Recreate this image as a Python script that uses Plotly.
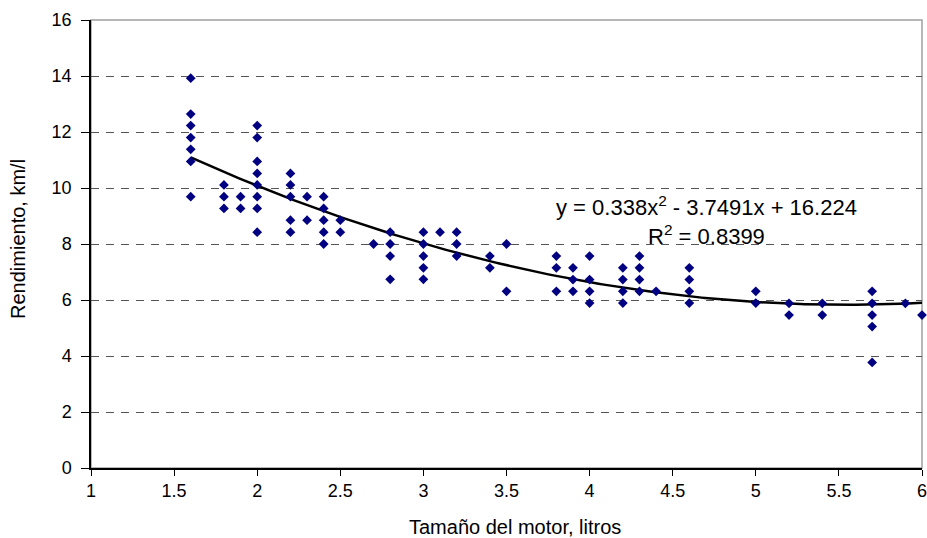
import plotly.graph_objects as go
import numpy as np

# Engine size (litres) and efficiency (km/l)
engine_l = [1.6]*7 + [1.8]*3 + [1.9]*2 + [2.0]*8 + [2.2]*5 + [2.3]*2 + [2.4]*5 + [2.5]*2 + \
           [2.7] + [2.8]*4 + [3.0]*5 + [3.1] + [3.2]*3 + [3.4]*2 + [3.5]*2 + [3.8]*3 + \
           [3.9]*3 + [4.0]*4 + [4.2]*4 + [4.3]*4 + [4.4] + [4.6]*4 + [5.0]*2 + [5.2]*2 + \
           [5.4]*2 + [5.7]*5 + [5.9] + [6.0]
km_per_l = [13.92, 12.64, 12.23, 11.80, 11.38, 10.95, 9.69,
            10.11, 9.69, 9.27,
            9.69, 9.27,
            12.23, 11.80, 10.95, 10.52, 10.11, 9.69, 9.27, 8.42,
            10.52, 10.11, 9.69, 8.85, 8.42,
            9.69, 8.85,
            9.69, 9.27, 8.85, 8.42, 8.00,
            8.85, 8.42,
            8.00,
            8.42, 8.00, 7.57, 6.74,
            8.42, 8.00, 7.57, 7.15, 6.74,
            8.42,
            8.42, 8.00, 7.57,
            7.57, 7.15,
            8.00, 6.31,
            7.57, 7.15, 6.31,
            7.15, 6.73, 6.31,
            7.57, 6.73, 6.31, 5.89,
            7.15, 6.73, 6.31, 5.89,
            7.57, 7.15, 6.73, 6.31,
            6.31,
            7.15, 6.73, 6.31, 5.89,
            6.31, 5.89,
            5.88, 5.46,
            5.88, 5.46,
            6.31, 5.88, 5.46, 5.05, 3.77,
            5.88,
            5.46]

# Trendline coefficients as printed on the chart
coef = [0.338, -3.7491, 16.224]
r2 = 0.8399

x_ticks = [1, 1.5, 2, 2.5, 3, 3.5, 4, 4.5, 5, 5.5, 6]
y_ticks = [0, 2, 4, 6, 8, 10, 12, 14, 16]

xf = np.linspace(min(engine_l), max(engine_l), 200)
yf = np.polyval(coef, xf)

fig = go.Figure()
fig.add_trace(go.Scatter(x=xf, y=yf, mode="lines", cliponaxis=False,
                         line=dict(color="black", width=2.5), hoverinfo="skip"))
fig.add_trace(go.Scatter(x=engine_l, y=km_per_l, mode="markers", cliponaxis=False,
                         marker=dict(symbol="diamond", size=7.5, color="#000080",
                                     line=dict(width=0))))

font = "Liberation Sans, Arial, sans-serif"
fig.update_layout(
    width=927, height=538,
    margin=dict(l=91, r=5, t=20, b=70, autoexpand=False),
    paper_bgcolor="white", plot_bgcolor="white",
    showlegend=False,
    font=dict(family=font, size=18, color="black"),
    xaxis=dict(range=[1, 6], tickvals=x_ticks, ticktext=[str(v) for v in x_ticks],
               showgrid=False, zeroline=False, showline=True, linecolor="black", linewidth=1.5,
               ticks="outside", ticklen=6, tickcolor="black", automargin=False,
               ticklabeloverflow="allow", tickfont=dict(size=18)),
    yaxis=dict(range=[0, 16], tickvals=y_ticks, showgrid=True, gridcolor="#555555",
               griddash="8px,7px", gridwidth=1,
               zeroline=False, showline=True, linecolor="black", linewidth=1.5,
               ticks="outside", ticklen=8, tickcolor="black", automargin=False,
               ticklabelstandoff=6, tickfont=dict(size=18)),
)
# plot-area border (top and right)
fig.add_shape(type="rect", xref="paper", yref="paper", x0=0, y0=0, x1=1, y1=1,
              line=dict(color="#a0a0a0", width=1.5), layer="below")

# axis titles
fig.add_annotation(xref="paper", yref="paper", x=-0.088, y=0.511, textangle=-90,
                   text="Rendimiento, km/l", showarrow=False,
                   xanchor="center", yanchor="middle", font=dict(size=20))
fig.add_annotation(xref="paper", yref="paper", x=0.51, y=-0.132,
                   text="Tamaño del motor, litros", showarrow=False,
                   xanchor="center", yanchor="middle", font=dict(size=20))

# trendline equation
fig.add_annotation(x=4.705, y=8.85, xref="x", yref="y",
                   text="y = 0.338x<sup>2</sup> - 3.7491x + 16.224<br>R<sup>2</sup> = " + f"{r2:.4f}",
                   showarrow=False, align="center", font=dict(size=22, color="black"))

fig.write_html("out.html",
               config={"displayModeBar": False},
               post_script="document.body.style.margin='0';document.body.style.overflow='hidden';")
